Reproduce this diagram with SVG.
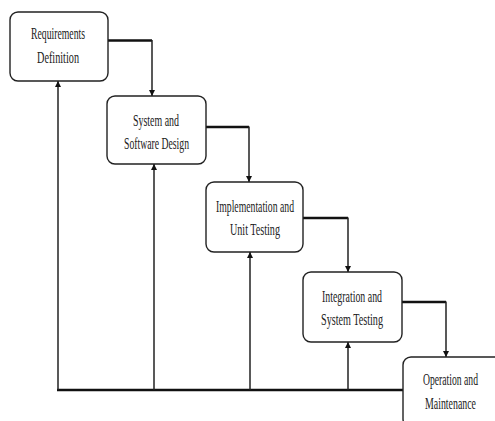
<svg xmlns="http://www.w3.org/2000/svg" width="495" height="421" viewBox="0 0 495 421">
<defs>
<style>
.box{fill:#fff;stroke:#222;stroke-width:1.4}
.t{font-family:"Liberation Serif","Times New Roman",serif;font-size:17.5px;fill:#222;text-anchor:middle}
.h{fill:none;stroke:#111;stroke-width:2.6}
.v{fill:none;stroke:#222;stroke-width:1.5}
</style>
<marker id="ah" viewBox="0 0 10 10" refX="10" refY="5" markerWidth="6" markerHeight="7" markerUnits="userSpaceOnUse" orient="auto">
<path d="M0,0 L10,5 L0,10 z" fill="#111"/>
</marker>
</defs>
<rect width="495" height="421" fill="#fff"/>
<g id="connectors">
<path class="h" d="M108,40.5 H152"/>
<path class="v" d="M152,40 V96" marker-end="url(#ah)"/>
<path class="h" d="M206,127 H249"/>
<path class="v" d="M249,126.5 V182" marker-end="url(#ah)"/>
<path class="h" d="M303,218 H348"/>
<path class="v" d="M348,217.5 V272" marker-end="url(#ah)"/>
<path class="h" d="M402,302 H446"/>
<path class="v" d="M446,301.5 V357" marker-end="url(#ah)"/>
<path class="h" d="M57,390 H404" style="stroke-width:2.4"/>
<path class="v" d="M58,390 V81" marker-end="url(#ah)"/>
<path class="v" d="M154,390 V164" marker-end="url(#ah)"/>
<path class="v" d="M250,390 V252" marker-end="url(#ah)"/>
<path class="v" d="M348,390 V342" marker-end="url(#ah)"/>
</g>
<g id="n1">
<rect class="box" x="10" y="12" width="98" height="69" rx="8"/>
<text class="t" x="58" y="39" textLength="54" lengthAdjust="spacingAndGlyphs">Requirements</text>
<text class="t" x="58" y="63" textLength="42" lengthAdjust="spacingAndGlyphs">Definition</text>
</g>
<g id="n2">
<rect class="box" x="107" y="96" width="99" height="68" rx="8"/>
<text class="t" x="156" y="126" textLength="46" lengthAdjust="spacingAndGlyphs">System and</text>
<text class="t" x="156.5" y="149" textLength="65" lengthAdjust="spacingAndGlyphs">Software Design</text>
</g>
<g id="n3">
<rect class="box" x="206" y="182" width="97" height="70" rx="8"/>
<text class="t" x="255" y="212" textLength="78" lengthAdjust="spacingAndGlyphs">Implementation and</text>
<text class="t" x="255" y="235" textLength="50" lengthAdjust="spacingAndGlyphs">Unit Testing</text>
</g>
<g id="n4">
<rect class="box" x="303" y="272" width="99" height="70" rx="8"/>
<text class="t" x="352" y="302" textLength="60" lengthAdjust="spacingAndGlyphs">Integration and</text>
<text class="t" x="352" y="325" textLength="62" lengthAdjust="spacingAndGlyphs">System Testing</text>
</g>
<g id="n5">
<rect class="box" x="403" y="357" width="99" height="70" rx="8"/>
<text class="t" x="450.5" y="385" textLength="55" lengthAdjust="spacingAndGlyphs">Operation and</text>
<text class="t" x="450.5" y="409" textLength="51" lengthAdjust="spacingAndGlyphs">Maintenance</text>
</g>
</svg>
